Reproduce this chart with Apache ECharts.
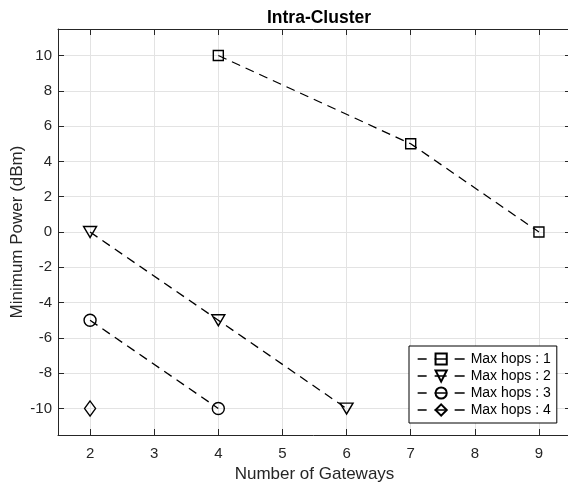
<!DOCTYPE html>
<html>
<head>
<meta charset="utf-8">
<script src="https://cdn.jsdelivr.net/npm/echarts@6/dist/echarts.min.js"></script>
<style>
html,body{margin:0;padding:0;background:#fff;}
#chart{width:568px;height:486px;}
</style>
</head>
<body>
<div id="chart"></div>
<script>
// Data
const titleText = 'Intra-Cluster';
const xName = 'Number of Gateways';
const yName = 'Minimum Power (dBm)';
const xTicks = [2, 3, 4, 5, 6, 7, 8, 9];
const yTicks = [-10, -8, -6, -4, -2, 0, 2, 4, 6, 8, 10];
const seriesNames = ['Max hops : 1', 'Max hops : 2', 'Max hops : 3', 'Max hops : 4'];
const hops1X = [4, 7, 9];
const hops1Y = [10, 5, 0];
const hops2X = [2, 4, 6];
const hops2Y = [0, -5, -10];
const hops3X = [2, 4];
const hops3Y = [-5, -10];
const hops4X = [2];
const hops4Y = [-10];

const FONT = '"Liberation Sans", Arial, Helvetica, sans-serif';
const AX = '#262626';
const GRIDC = '#e3e3e3';

function pairs(xs, ys) { return xs.map((x, i) => [x, ys[i]]); }

const markerDefs = [
  { symbol: 'rect', size: 10, rotate: 0 },
  { symbol: 'triangle', size: [13, 11], rotate: 180 },
  { symbol: 'circle', size: 12, rotate: 0 },
  { symbol: 'diamond', size: [11, 15], rotate: 0 }
];
const dataSets = [pairs(hops1X, hops1Y), pairs(hops2X, hops2Y), pairs(hops3X, hops3Y), pairs(hops4X, hops4Y)];

const series = dataSets.map((d, i) => ({
  name: seriesNames[i],
  type: 'line',
  xAxisIndex: 0,
  yAxisIndex: 0,
  data: d,
  symbol: markerDefs[i].symbol,
  symbolSize: markerDefs[i].size,
  symbolRotate: markerDefs[i].rotate,
  showAllSymbol: true,
  lineStyle: { color: '#000', width: 1.3, type: [9, 6] },
  itemStyle: { color: 'rgba(0,0,0,0)', borderColor: '#000', borderWidth: 1.4 },
  emphasis: { disabled: true },
  animation: false,
  z: 5
}));

const chart = echarts.init(document.getElementById('chart'), null, { renderer: 'canvas' });
chart.setOption({
  backgroundColor: '#fff',
  animation: false,
  title: {
    text: titleText,
    left: 314,
    top: 4,
    textAlign: 'center',
    textStyle: { fontFamily: FONT, fontSize: 17.5, fontWeight: 'bold', color: '#000' }
  },
  grid: { left: 58, top: 29, width: 513, height: 406, containLabel: false, outerBoundsMode: 'none' },
  legend: {
    show: true,
    data: seriesNames,
    orient: 'vertical',
    left: 409,
    top: 346,
    itemWidth: 47,
    itemHeight: 14,
    itemGap: 3,
    padding: [6, 6, 6, 8],
    backgroundColor: '#fff',
    borderColor: '#000',
    borderWidth: 1,
    borderRadius: 0,
    lineStyle: { type: [9, 8, 12, 8, 10, 100], width: 1.3, color: '#000' },
    textStyle: { fontFamily: FONT, fontSize: 14, lineHeight: 14, color: '#000', padding: [0, 0, 0, 1] },
    selectedMode: false
  },
  xAxis: [
    {
      type: 'value', position: 'bottom', min: 1.5, max: 9.5,
      name: xName, nameLocation: 'middle', nameGap: 31, nameMoveOverlap: false,
      nameTextStyle: { fontFamily: FONT, fontSize: 17, color: AX },
      axisLine: { show: true, onZero: false, lineStyle: { color: AX, width: 1 } },
      axisTick: { show: true, inside: true, length: 6, customValues: xTicks, lineStyle: { color: AX } },
      axisLabel: { show: true, customValues: xTicks, margin: 11, fontFamily: FONT, fontSize: 15, color: AX },
      splitLine: { show: true, lineStyle: { color: GRIDC, width: 1 } }
    },
    {
      type: 'value', position: 'top', min: 1.5, max: 9.5,
      axisLine: { show: true, onZero: false, lineStyle: { color: AX, width: 1 } },
      axisTick: { show: true, inside: true, length: 6, customValues: xTicks, lineStyle: { color: AX } },
      axisLabel: { show: false },
      splitLine: { show: false }
    }
  ],
  yAxis: [
    {
      type: 'value', position: 'left', min: -11.5, max: 11.5,
      name: yName, nameLocation: 'middle', nameGap: 32, nameRotate: 90, nameMoveOverlap: false,
      nameTextStyle: { fontFamily: FONT, fontSize: 17, color: AX },
      axisLine: { show: true, onZero: false, lineStyle: { color: AX, width: 1 } },
      axisTick: { show: true, inside: true, length: 6, customValues: yTicks, lineStyle: { color: AX } },
      axisLabel: { show: true, customValues: yTicks, margin: 6, fontFamily: FONT, fontSize: 15, color: AX },
      splitLine: { show: true, lineStyle: { color: GRIDC, width: 1 } }
    },
    {
      type: 'value', position: 'right', min: -11.5, max: 11.5,
      axisLine: { show: true, onZero: false, lineStyle: { color: AX, width: 1 } },
      axisTick: { show: true, inside: true, length: 6, customValues: yTicks, lineStyle: { color: AX } },
      axisLabel: { show: false },
      splitLine: { show: false }
    }
  ],
  series: series
});
</script>
</body>
</html>
